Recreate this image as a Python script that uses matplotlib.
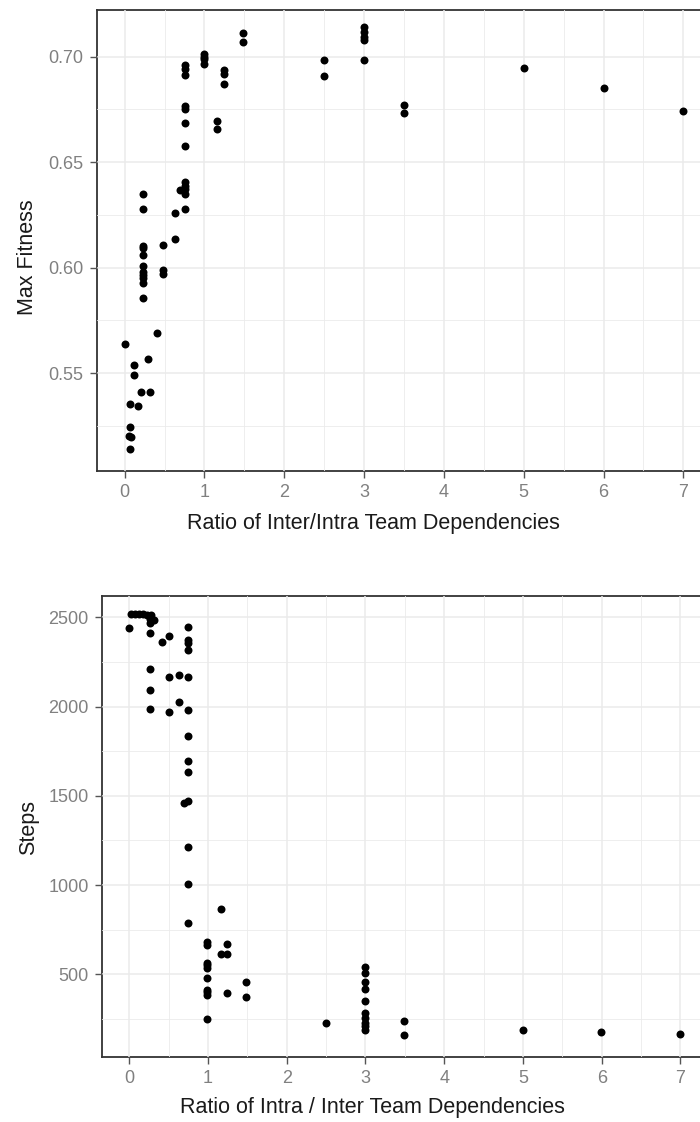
import matplotlib.pyplot as plt
from matplotlib.ticker import MultipleLocator

plt.rcParams['font.family'] = ['Liberation Sans', 'DejaVu Sans']

# Top panel: max fitness vs ratio of inter/intra team dependencies
fit_ratio = [0.0, 0.07, 0.05, 0.07, 0.075, 0.066, 0.17, 0.117, 0.117, 0.21, 0.32, 0.29, 0.41,
             0.23, 0.23, 0.23, 0.23, 0.23, 0.23, 0.23, 0.23, 0.23, 0.23, 0.23,
             0.475, 0.475, 0.475, 0.63, 0.63,
             0.75, 0.75, 0.75, 0.75, 0.75, 0.69,
             0.75, 0.75, 0.75, 0.75, 0.75, 0.75, 0.75,
             1.0, 1.0, 1.0, 1.0, 1.24, 1.24, 1.24, 1.16, 1.16, 1.48, 1.48,
             2.5, 2.5, 3.0, 3.0, 3.0, 3.0, 3.0, 3.5, 3.5, 5.0, 6.0, 7.0]
fitness = [0.5637, 0.5140, 0.5205, 0.5244, 0.5197, 0.5356, 0.5344, 0.5540, 0.5490, 0.5410, 0.5410, 0.5568, 0.5690,
           0.6350, 0.6276, 0.6105, 0.6095, 0.6060, 0.6010, 0.5980, 0.5965, 0.5950, 0.5930, 0.5856,
           0.6110, 0.5990, 0.5970, 0.6137, 0.6257,
           0.6405, 0.6387, 0.6371, 0.6348, 0.6276, 0.6370,
           0.6959, 0.6943, 0.6911, 0.6768, 0.6752, 0.6684, 0.6578,
           0.7014, 0.6999, 0.6990, 0.6967, 0.6935, 0.6920, 0.6872, 0.6697, 0.6657, 0.7110, 0.7070,
           0.6982, 0.6908, 0.7141, 0.7117, 0.7093, 0.7077, 0.6982, 0.6771, 0.6732, 0.6946, 0.6852, 0.6741]

# Bottom panel: steps vs ratio of intra/inter team dependencies
step_ratio = [0.02, 0.07, 0.12, 0.17, 0.22, 0.27, 0.26, 0.26, 0.32, 0.0, 0.26, 0.5, 0.42,
              0.744, 0.744, 0.744, 0.744, 0.744, 0.744, 0.744, 0.744, 0.744, 0.744, 0.70,
              0.26, 0.26, 0.26, 0.5, 0.63, 0.63, 0.5,
              0.744, 0.744, 0.744, 1.166,
              0.99, 0.99, 0.99, 0.99, 0.99, 0.99, 0.99, 0.99, 0.99, 0.99,
              1.24, 1.17, 1.24, 1.24, 1.48, 1.48,
              2.5, 3.0, 3.0, 3.0, 3.0, 3.0, 3.0, 3.0, 3.0, 3.0, 3.0,
              3.49, 3.49, 5.0, 5.99, 7.0]
steps = [2520, 2520, 2520, 2518, 2515, 2515, 2490, 2470, 2485, 2438, 2410, 2397, 2363,
         2447, 2373, 2354, 2317, 2164, 1981, 1837, 1695, 1632, 1472, 1458,
         2210, 2093, 1985, 2164, 2177, 2027, 1968,
         1215, 1006, 786, 866,
         683, 664, 563, 549, 535, 481, 412, 398, 384, 250,
         668, 612, 612, 394, 459, 371,
         229, 543, 505, 459, 416, 350, 282, 253, 227, 208, 188,
         240, 162, 188, 175, 164]

fig = plt.figure(figsize=(7, 11.22), dpi=100)

ax1 = fig.add_axes([96.7 / 700, 651 / 1122, 614.6 / 700, 461 / 1122])
ax2 = fig.add_axes([101.7 / 700, 65.3 / 1122, 606.3 / 700, 461 / 1122])


def style(ax):
    ax.set_axisbelow(False)
    ax.grid(which='major', color='#ebebeb', linewidth=1.1)
    ax.grid(which='minor', color='#ebebeb', linewidth=0.6)
    ax.xaxis.set_major_locator(MultipleLocator(1))
    ax.xaxis.set_minor_locator(MultipleLocator(0.5))
    ax.set_xlim(-0.35, 7.35)
    for s in ax.spines.values():
        s.set_color('#333333')
        s.set_linewidth(1.3)
    ax.tick_params(which='major', length=5, width=1.0, color='#555555',
                   labelcolor='#808080', labelsize=13, pad=4.5)
    ax.tick_params(which='minor', length=0)


ax1.scatter(fit_ratio, fitness, s=33, color='black', zorder=3, linewidths=0)
style(ax1)
ax1.set_ylim(0.5037, 0.7221)
ax1.yaxis.set_major_locator(MultipleLocator(0.05))
ax1.yaxis.set_minor_locator(MultipleLocator(0.025))
ax1.yaxis.set_major_formatter(lambda v, p: f'{v:.2f}')
ax1.set_xlabel('Ratio of Inter/Intra Team Dependencies', fontsize=15.5, color='#1a1a1a')
ax1.set_ylabel('Max Fitness', fontsize=15.5, color='#1a1a1a')
ax1.xaxis.set_label_coords(0.4504, -0.113)
ax1.xaxis.label.set_va('center')
ax1.yaxis.set_label_coords(-0.112, 0.464)
ax1.yaxis.label.set_va('center')

ax2.scatter(step_ratio, steps, s=33, color='black', zorder=3, linewidths=0)
style(ax2)
ax2.set_ylim(38, 2621)
ax2.yaxis.set_major_locator(MultipleLocator(500))
ax2.yaxis.set_minor_locator(MultipleLocator(250))
ax2.set_xlabel('Ratio of Intra / Inter Team Dependencies', fontsize=15.5, color='#1a1a1a')
ax2.set_ylabel('Steps', fontsize=15.5, color='#1a1a1a')
ax2.xaxis.set_label_coords(0.4467, -0.11)
ax2.xaxis.label.set_va('center')
ax2.yaxis.set_label_coords(-0.121, 0.498)
ax2.yaxis.label.set_va('center')

fig.savefig('out.png', dpi=100)
